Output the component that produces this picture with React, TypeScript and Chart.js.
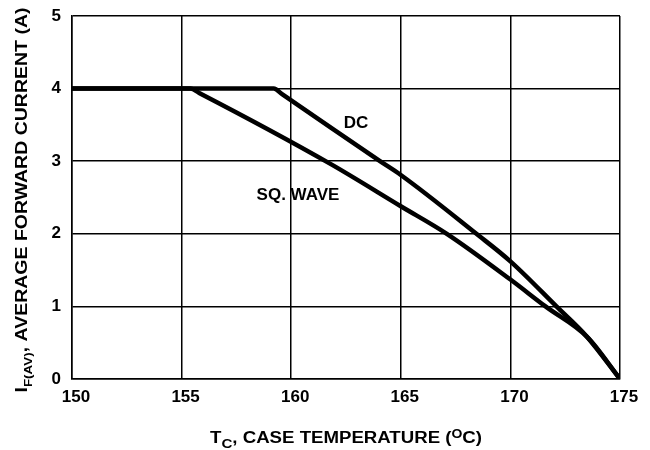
import React, { useEffect, useRef } from "react";
import { Chart, registerables } from "chart.js";

Chart.register(...registerables);

// ---- data ----
const tempTicks = [150, 155, 160, 165, 170, 175];
const currentTicks = [0, 1, 2, 3, 4, 5];
const dcTemp = [150, 159.2, 159.6, 164.05, 165, 168.45, 170, 172.1, 173.5, 175];
const dcCurrent = [4, 4, 3.92, 3, 2.81, 2, 1.62, 1.0, 0.58, 0];
const sqTemp = [150, 155.4, 155.8, 161.75, 165, 167.1, 170, 171.6, 173.5, 175];
const sqCurrent = [4, 4, 3.94, 2.97, 2.38, 2.0, 1.37, 1.0, 0.58, 0];
const seriesLabels = ["DC", "SQ. WAVE"];

type Seg = { text: string; size: number; dy: number };

const FONT = "'Liberation Sans', Arial, Helvetica, sans-serif";

function drawRich(
  ctx: CanvasRenderingContext2D,
  segs: Seg[],
  cx: number,
  cy: number,
  rot: number,
  targetWidth: number
) {
  ctx.save();
  let total = 0;
  const widths = segs.map((s) => {
    ctx.font = `bold ${s.size}px ${FONT}`;
    const w = ctx.measureText(s.text).width;
    total += w;
    return w;
  });
  const sx = targetWidth / total;
  ctx.translate(cx, cy);
  ctx.rotate(rot);
  ctx.scale(sx, 1);
  ctx.fillStyle = "#000";
  ctx.textBaseline = "alphabetic";
  ctx.textAlign = "left";
  let x = -total / 2;
  segs.forEach((s, i) => {
    ctx.font = `bold ${s.size}px ${FONT}`;
    ctx.fillText(s.text, x, s.dy);
    x += widths[i];
  });
  ctx.restore();
}

const annotPlugin = {
  id: "annot",
  afterDraw(chart: any) {
    const ctx: CanvasRenderingContext2D = chart.ctx;
    const xs = chart.scales.x;
    const ys = chart.scales.y;
    ctx.save();
    ctx.fillStyle = "#000";
    ctx.font = `bold 17px ${FONT}`;
    ctx.textAlign = "left";
    ctx.textBaseline = "alphabetic";
    ctx.fillText(seriesLabels[0], xs.getPixelForValue(162.4), ys.getPixelForValue(3.457));
    ctx.fillText(seriesLabels[1], xs.getPixelForValue(158.42), ys.getPixelForValue(2.466));
    ctx.restore();

    drawRich(
      ctx,
      [
        { text: "T", size: 16, dy: 0 },
        { text: "C", size: 13, dy: 5 },
        { text: ", CASE TEMPERATURE (", size: 16, dy: 0 },
        { text: "O", size: 12, dy: -5 },
        { text: "C)", size: 16, dy: 0 },
      ],
      346,
      443,
      0,
      272
    );
    drawRich(
      ctx,
      [
        { text: "I", size: 16, dy: 0 },
        { text: "F(AV)", size: 11, dy: 5 },
        { text: ", AVERAGE FORWARD CURRENT (A)", size: 16, dy: 0 },
      ],
      27,
      200,
      -Math.PI / 2,
      385
    );
  },
};

export default function App() {
  const ref = useRef<HTMLCanvasElement | null>(null);
  useEffect(() => {
    document.body.style.margin = "0";
    const canvas = ref.current;
    if (!canvas) return;
    const mk = (xs: number[], ys: number[]) => xs.map((x, i) => ({ x, y: ys[i] }));
    const lineStyle = {
      showLine: true,
      borderColor: "#000",
      backgroundColor: "#000",
      borderWidth: 4.5,
      pointRadius: 0,
      cubicInterpolationMode: "monotone",
    };
    const chart = new Chart(canvas, {
      type: "scatter",
      data: {
        datasets: [
          { label: seriesLabels[0], data: mk(dcTemp, dcCurrent), ...lineStyle },
          { label: seriesLabels[1], data: mk(sqTemp, sqCurrent), ...lineStyle },
        ],
      },
      options: {
        animation: false,
        responsive: false,
        maintainAspectRatio: false,
        layout: { padding: { top: 16, right: 30, left: 0, bottom: 0 } },
        plugins: { legend: { display: false }, tooltip: { enabled: false } },
        scales: {
          x: {
            type: "linear",
            min: tempTicks[0],
            max: tempTicks[tempTicks.length - 1],
            afterBuildTicks: (s: any) => {
              s.ticks = tempTicks.map((v) => ({ value: v }));
            },
            afterFit: (s: any) => {
              s.height = 71;
              s.paddingLeft = 0;
              s.paddingRight = 0;
            },
            grid: { color: "#000", lineWidth: 1.5, drawTicks: false },
            border: { display: true, color: "#000", width: 1.5 },
            ticks: {
              color: "#000",
              font: { family: FONT, size: 17, weight: "bold" },
              padding: 8,
              labelOffset: 4,
              maxRotation: 0,
            },
          },
          y: {
            type: "linear",
            min: currentTicks[0],
            max: currentTicks[currentTicks.length - 1],
            afterBuildTicks: (s: any) => {
              s.ticks = currentTicks.map((v) => ({ value: v }));
            },
            afterFit: (s: any) => {
              s.width = 72;
              s.paddingTop = 0;
              s.paddingBottom = 0;
            },
            grid: { color: "#000", lineWidth: 1.5, drawTicks: false },
            border: { display: true, color: "#000", width: 1.5 },
            ticks: {
              color: "#000",
              font: { family: FONT, size: 17, weight: "bold" },
              padding: 11,
            },
          },
        },
      },
      plugins: [annotPlugin],
    } as any);
    return () => chart.destroy();
  }, []);
  return (
    <div style={{ position: "fixed", left: 0, top: 0, width: 650, height: 450, background: "#fff" }}>
      <canvas ref={ref} width={650} height={450} style={{ width: 650, height: 450 }} />
    </div>
  );
}
